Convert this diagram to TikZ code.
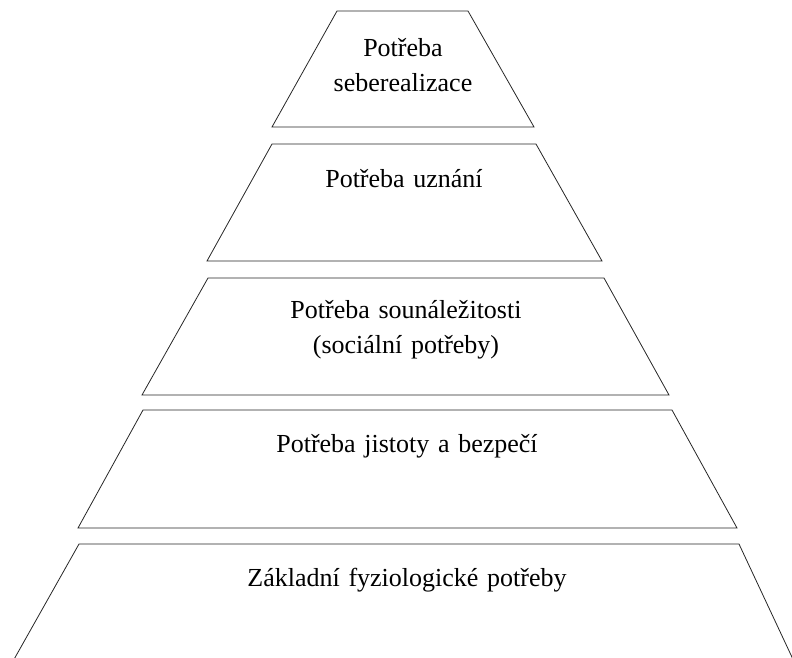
\documentclass[tikz,border=0pt]{standalone}
\usepackage{fontspec}
\setmainfont{Liberation Serif}
\usepackage{tikz}

\begin{document}
\begin{tikzpicture}[x=1pt,y=-1pt,
    tier/.style={draw=black!85, line width=0.8pt},
    tiertext/.style={text width=400pt, align=center, anchor=base, inner sep=0pt,
      font=\fontsize{26}{35}\selectfont}]
    \clip (0,0) rectangle (792,657);
    % Levels of the pyramid, top to bottom
    \draw[tier] (337,11) -- (468,11) -- (534,127) -- (272,127) -- cycle;
    \draw[tier] (272,144) -- (536,144) -- (602,261) -- (207,261) -- cycle;
    \draw[tier] (208,278) -- (604,278) -- (669,395) -- (142,395) -- cycle;
    \draw[tier] (143,410) -- (672,410) -- (737,528) -- (78,528) -- cycle;
    % bottom level runs off the page
    \draw[tier] (8,670) -- (79,544) -- (739,544) -- (798,670);
    %
    % Texts
    \node[tiertext] (seberealizace) at (403,56) {Potřeba\\seberealizace};
    \node[tiertext] (uznani) at (404,187) {Potřeba uznání};
    \node[tiertext] (socialni) at (406,318) {Potřeba sounáležitosti\\(sociální potřeby)};
    \node[tiertext] (bezpeci) at (407,452) {Potřeba jistoty a bezpečí};
    \node[tiertext] (fyziologicke) at (407,586) {Základní fyziologické potřeby};
\end{tikzpicture}
\end{document}
